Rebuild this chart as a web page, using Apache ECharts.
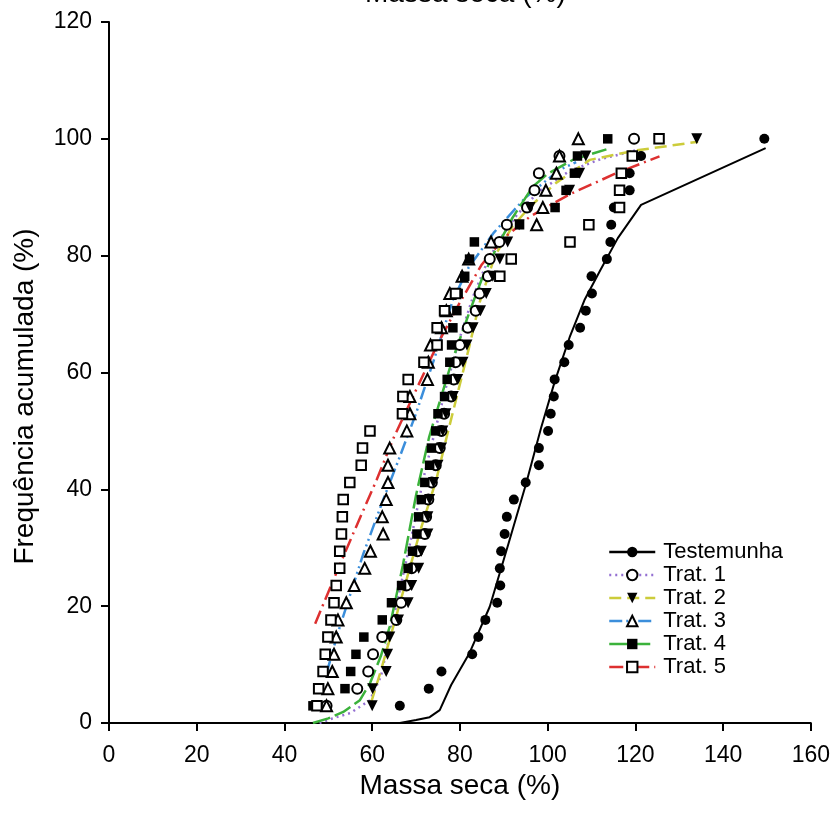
<!DOCTYPE html>
<html>
<head>
<meta charset="utf-8">
<title>Frequência acumulada</title>
<script src="https://cdn.jsdelivr.net/npm/echarts@6/dist/echarts.min.js"></script>
<style>
    html, body { margin: 0; padding: 0; background: #fff; }
    #chart { width: 833px; height: 818px; }
</style>
</head>
<body>
<div id="chart"></div>
<script>
// frequencia acumulada (%) de cada observacao (34 por tratamento)
let freq = [2.94, 5.88, 8.82, 11.76, 14.71, 17.65, 20.59, 23.53, 26.47, 29.41, 32.35, 35.29,
    38.24, 41.18, 44.12, 47.06, 50.00, 52.94, 55.88, 58.82, 61.76, 64.71, 67.65, 70.59,
    73.53, 76.47, 79.41, 82.35, 85.29, 88.24, 91.18, 94.12, 97.06, 100.00];

// massa seca (%) observada
let testemunha = [66.3, 72.9, 75.8, 82.8, 84.2, 85.8, 88.5, 89.2, 89.1, 89.4, 90.2, 90.7, 92.3, 95.0,
    98.0, 98.0, 100.1, 100.7, 101.4, 101.6, 103.8, 104.8, 107.4, 108.7, 110.1, 110.0, 113.5, 114.3,
    114.5, 115.1, 118.7, 118.7, 121.3, 149.4];
let trat1 = [49.6, 56.6, 59.1, 60.2, 62.3, 65.5, 66.6, 67.8, 69.0, 70.3, 72.0, 72.3, 72.8, 73.6,
    74.5, 75.4, 75.8, 76.4, 78.0, 78.6, 79.0, 80.0, 81.8, 83.6, 84.5, 86.4, 86.8, 89.0,
    90.7, 95.3, 97.0, 98.0, 102.7, 119.7];
let trat2 = [60.0, 60.1, 63.2, 63.5, 64.0, 66.0, 68.2, 69.0, 70.6, 71.2, 72.7, 72.7, 73.1, 74.0,
    75.0, 75.8, 76.1, 76.8, 78.5, 79.5, 80.7, 81.6, 83.0, 84.7, 86.0, 87.5, 89.1, 90.9,
    93.5, 96.0, 105.0, 107.3, 108.7, 134.0];
let trat3 = [49.6, 49.9, 50.9, 51.3, 51.8, 52.2, 54.1, 55.9, 58.3, 59.6, 62.5, 62.3, 63.2, 63.6,
    63.6, 64.0, 67.9, 68.6, 68.6, 72.6, 72.8, 73.3, 75.8, 76.9, 77.7, 80.5, 82.0, 87.1,
    97.5, 98.9, 99.6, 102.0, 102.7, 107.0];
let trat4 = [46.5, 53.8, 55.1, 56.3, 58.1, 62.3, 64.4, 66.7, 68.2, 69.2, 70.2, 70.6, 71.2, 72.0,
    73.1, 73.5, 74.5, 75.0, 76.5, 77.1, 77.7, 78.1, 78.4, 79.3, 79.6, 81.1, 82.2, 83.3,
    93.6, 101.7, 104.2, 106.1, 106.8, 113.7];
let trat5 = [47.4, 47.8, 48.8, 49.3, 49.9, 50.6, 51.3, 51.8, 52.6, 52.6, 53.0, 53.2, 53.4, 54.9,
    57.5, 57.8, 59.5, 66.9, 67.0, 68.2, 71.8, 74.8, 74.8, 76.5, 79.0, 89.1, 91.7, 105.1,
    109.4, 116.4, 116.4, 116.8, 119.3, 125.4];

// curvas ajustadas (x = massa seca, y = frequencia)
let fit0X = [66.3, 70, 73.1, 75.4, 78, 82.2, 86.8, 91, 95.1, 98.5, 101.6, 105, 108.4, 112, 116, 121.3, 149.7];
let fit0Y = [0, 0.5, 1, 2.2, 6.5, 12, 19.9, 30.5, 41, 50.5, 58.4, 66, 72.4, 77.5, 83, 88.7, 98.4];
let fit1X = [48, 51, 55, 59.5, 62, 64, 66.3, 69, 71.6, 74, 77, 80, 83, 86, 89, 93, 98, 105, 112, 120];
let fit1Y = [0, 0.8, 1.7, 3.9, 8, 15, 22.8, 32, 41.6, 49, 58, 66, 73, 78.5, 82.7, 87, 91, 94.5, 96.5, 98];
let fit2X = [59.8, 62, 65, 68, 71, 74.6, 77, 80, 82, 84.5, 88, 92, 96, 102, 109.6, 120, 134.3];
let fit2Y = [3.6, 9, 17, 25, 33, 41.6, 49, 58, 64, 72, 80, 85, 88.4, 92.5, 96.4, 98, 99.5];
let fit3X = [49.6, 52, 55, 58, 62.5, 66, 70, 74, 78.4, 82, 87.8, 95, 102.7, 106.5];
let fit3Y = [8.5, 15, 22, 29, 38.2, 45, 53, 62, 72.4, 78, 84, 90, 94.7, 96];
let fit4X = [46.5, 50, 53.4, 57.2, 59.5, 62, 64, 67, 70, 73, 75.8, 78, 82.2, 85, 88.3, 92, 96.6, 100, 106, 113.4];
let fit4Y = [0, 0.8, 1.9, 3.9, 6.8, 11.5, 16.5, 27, 39, 49, 56, 61.5, 70.4, 76, 81.3, 86.5, 91.8, 94, 96.5, 98.2];
let fit5X = [47, 52, 56, 61, 65, 70, 75, 80, 85, 90, 96, 105, 115.6, 125.5];
let fit5Y = [17, 26, 33, 41.6, 49, 57, 65, 72, 78.5, 83, 86.7, 90.5, 94.1, 97];

let names = ['Testemunha', 'Trat. 1', 'Trat. 2', 'Trat. 3', 'Trat. 4', 'Trat. 5'];

let fontFamily = "'Liberation Sans', Arial, sans-serif";
var chart = echarts.init(document.getElementById('chart'));

function zip(xs, ys) {
    return xs.map((x, i) => [x, ys[i]]);
}

// estilo de cada tratamento: simbolo e linha
let styles = [
    {symbol: 'circle', rotate: 0, size: 10, color: '#000000', dash: 'solid', width: 2},
    {symbol: 'emptyCircle', rotate: 0, size: 10, color: '#9470d2', dash: [2, 4], width: 2.5},
    {symbol: 'triangle', rotate: 180, size: 11, color: '#cccc3a', dash: [12, 6], width: 2.5},
    {symbol: 'emptyTriangle', rotate: 0, size: 11, color: '#3b8edb', dash: [13, 4, 2, 4, 2, 4], width: 2.5},
    {symbol: 'rect', rotate: 0, size: 9.5, color: '#3bb23b', dash: [18, 5], width: 2.5},
    {symbol: 'emptyRect', rotate: 0, size: 9.5, color: '#dd3030', dash: [14, 5, 2, 5], width: 2.5}
];
let observed = [testemunha, trat1, trat2, trat3, trat4, trat5];
let fitsX = [fit0X, fit1X, fit2X, fit3X, fit4X, fit5X];
let fitsY = [fit0Y, fit1Y, fit2Y, fit3Y, fit4Y, fit5Y];

let series = [];
names.forEach((name, i) => {
    let st = styles[i];
    series.push({
        name: name,
        type: 'line',
        data: zip(fitsX[i], fitsY[i]),
        showSymbol: false,
        symbol: st.symbol,
        symbolRotate: st.rotate,
        smooth: false,
        z: 2,
        itemStyle: {color: '#000000'},
        lineStyle: {color: st.color, width: st.width, type: st.dash},
        emphasis: {disabled: true}
    });
});
names.forEach((name, i) => {
    let st = styles[i];
    series.push({
        name: name + ' obs',
        type: 'scatter',
        data: zip(observed[i], freq),
        symbol: st.symbol,
        symbolRotate: st.rotate,
        symbolSize: st.size,
        z: 3,
        itemStyle: {color: '#000000', opacity: 1, borderWidth: st.symbol.indexOf('empty') === 0 ? 2 : 0},
        emphasis: {disabled: true}
    });
});

let option = {
    animation: false,
    backgroundColor: '#ffffff',
    textStyle: {fontFamily: fontFamily, color: '#000'},
    // titulo do painel de cima, cortado na borda
    title: {
        text: 'Massa seca (%)',
        left: 360,
        top: -25,
        textStyle: {fontFamily: fontFamily, fontSize: 28, fontWeight: 'normal', color: '#000'}
    },
    grid: {left: 109, right: 21, top: 22, bottom: 95, containLabel: false},
    legend: {
        data: names,
        orient: 'vertical',
        left: 603,
        top: 536,
        itemWidth: 46,
        itemHeight: 13,
        itemGap: 1,
        selectedMode: false,
        lineStyle: {width: 2.5},
        textStyle: {fontFamily: fontFamily, fontSize: 22, color: '#000', padding: [0, 0, 0, 3]}
    },
    xAxis: {
        type: 'value',
        min: 0,
        max: 160,
        interval: 20,
        name: 'Massa seca (%)',
        nameLocation: 'middle',
        nameGap: 33,
        nameTextStyle: {fontFamily: fontFamily, fontSize: 28, color: '#000'},
        axisLine: {show: true, lineStyle: {color: '#000', width: 2}},
        axisTick: {show: true, length: 8, lineStyle: {color: '#000', width: 2}},
        axisLabel: {fontFamily: fontFamily, fontSize: 23, color: '#000', margin: 21},
        splitLine: {show: false}
    },
    yAxis: {
        type: 'value',
        min: 0,
        max: 120,
        interval: 20,
        name: 'Frequência acumulada (%)',
        nameLocation: 'middle',
        nameGap: 70,
        nameTextStyle: {fontFamily: fontFamily, fontSize: 28, color: '#000', padding: [0, 48, 0, 0]},
        axisLine: {show: true, lineStyle: {color: '#000', width: 2}},
        axisTick: {show: true, length: 8, lineStyle: {color: '#000', width: 2}},
        axisLabel: {fontFamily: fontFamily, fontSize: 23, color: '#000', margin: 17},
        splitLine: {show: false}
    },
    series: series
};

chart.setOption(option);
</script>
</body>
</html>
